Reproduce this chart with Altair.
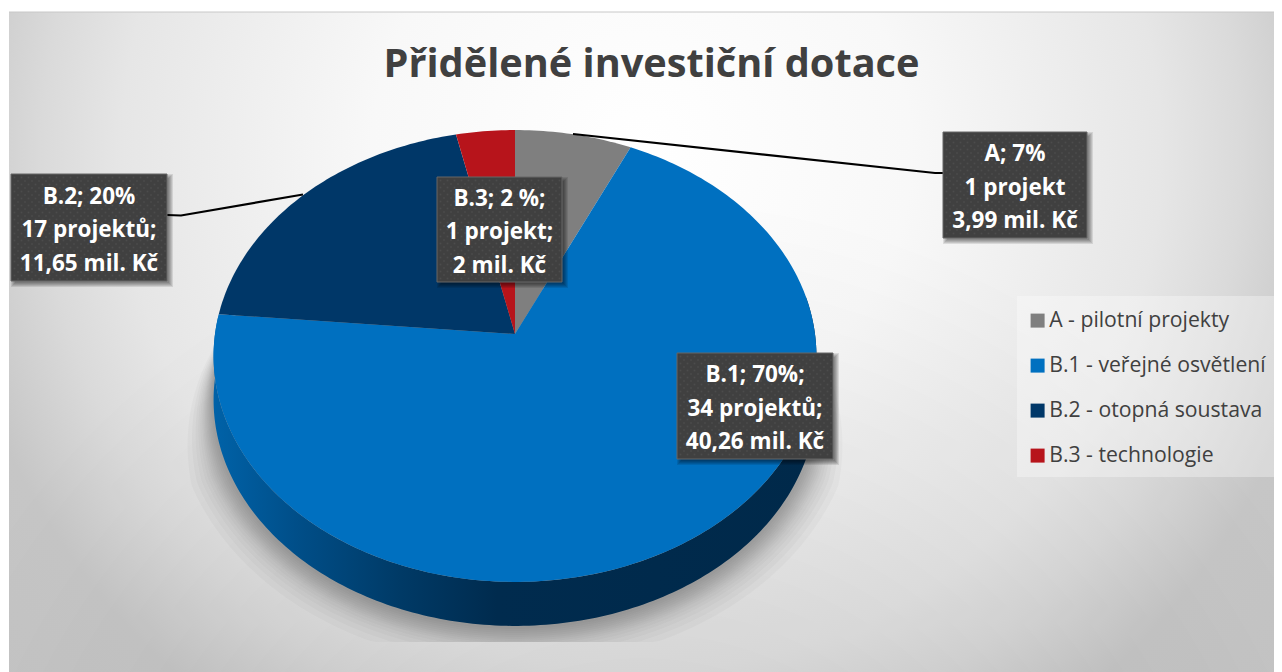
import math
import altair as alt
import pandas as pd

# ---- data
categories = ["A - pilotní projekty", "B.1 - veřejné osvětlení", "B.2 - otopná soustava", "B.3 - technologie"]
amounts = [3.99, 40.26, 11.65, 2.0]
colors = ["#7f7f7f", "#0070c0", "#003768", "#b7141b"]
label_lines = [
    ["A; 7%", "1 projekt", "3,99 mil. Kč"],
    ["B.1; 70%;", "34 projektů;", "40,26 mil. Kč"],
    ["B.2; 20%", "17 projektů;", "11,65 mil. Kč"],
    ["B.3; 2 %;", "1 projekt;", "2 mil. Kč"],
]
title_text = "Přidělené investiční dotace"

# ---- layout (page pixels)
CX, CY = 515.0, 334.0
A_, B_, K_ = 300.0, 223.8, 0.0973
DEPTH = 44.0
SHADOW_BOTTOM = 642.0
RIGHT = 1274
boxes = [(943, 132, 1087, 238), (677, 353, 833, 459), (11, 174, 167, 281), (437, 177, 562, 282)]
leaders = [[(573, 134), (935, 173), (943, 173)], [(167, 215), (181, 215.5), (303, 194.5)]]
LINE_STEP = 33.5
LABEL_SHIFT = 2.5

X = alt.X("x:Q", axis=None, scale=alt.Scale(domain=[8, RIGHT], range=[0, RIGHT - 8], nice=False, zero=False))
Y = alt.Y("y:Q", axis=None, scale=alt.Scale(domain=[8, 672], range=[0, 664], nice=False, zero=False))
X2 = alt.X2("x2:Q")
Y2 = alt.Y2("y2:Q")


def rim(deg, dy=0.0):
    t = math.radians(deg)
    u, v = math.sin(t), math.cos(t)
    w = 1 + K_ * v
    return CX + A_ * u / w, CY - B_ * v / w + dy


total = sum(amounts)
rows = []
cum = 0.0
for cat, amount in zip(categories, amounts):
    a0, a1 = cum / total * 360, (cum + amount) / total * 360
    cum += amount
    n = max(2, int(a1 - a0) + 1)
    pts = [(CX, CY)] + [rim(a0 + (a1 - a0) * i / n) for i in range(n + 1)] + [(CX, CY)]
    for i, (x, y) in enumerate(pts):
        rows.append({"x": x, "y": y, "cat": cat, "i": i})
slices = pd.DataFrame(rows)

blue_end = (amounts[0] + amounts[1]) / total * 360
wall_angles = [80 + (blue_end - 80) * i / 200 for i in range(201)]
wall_pts = [rim(a) for a in wall_angles] + [rim(a, DEPTH) for a in reversed(wall_angles)]
wall = pd.DataFrame([{"x": x, "y": y, "i": i} for i, (x, y) in enumerate(wall_pts)])

# soft shadow below the disc
shadow_rows = []
for layer, d in enumerate([40, 34, 29, 25, 22, 19, 17, 15, 13, 11, 9, 7, 5, 3]):
    pts = []
    for a in [70 + 230 * i / 230 for i in range(231)]:
        x, y = rim(a, DEPTH)
        t = math.radians(a)
        f = min(1.0, max(0.0, (y - 320) / 150))
        xx = x + math.sin(t) * d * f
        yy = min(SHADOW_BOTTOM, y - math.cos(t) * d * f)
        pts.append((xx, yy))
    for i, (x, y) in enumerate(pts):
        shadow_rows.append({"x": x, "y": y, "layer": layer, "i": i})
shadow = pd.DataFrame(shadow_rows)

bg_data = pd.DataFrame([{"x": 9, "x2": RIGHT, "y": 12, "y2": 672}])
bg = alt.Chart(bg_data).mark_rect(
    fill=alt.Gradient(
        gradient="radial", x1=0.5, y1=0.35, r1=0, x2=0.5, y2=0.35, r2=0.79,
        stops=[
            alt.GradientStop(offset=0, color="#ffffff"),
            alt.GradientStop(offset=0.27, color="#f8f8f8"),
            alt.GradientStop(offset=0.52, color="#e6e6e6"),
            alt.GradientStop(offset=0.60, color="#dadada"),
            alt.GradientStop(offset=0.70, color="#c6c6c6"),
            alt.GradientStop(offset=1, color="#c2c2c2"),
        ],
    )
).encode(x=X, x2=X2, y=Y, y2=Y2)

bg_dim = alt.Chart(bg_data).mark_rect(
    fill=alt.Gradient(
        gradient="radial", x1=0.5, y1=1.0, r1=0, x2=0.5, y2=1.0, r2=0.62,
        stops=[
            alt.GradientStop(offset=0, color="rgba(0,0,0,0.12)"),
            alt.GradientStop(offset=1, color="rgba(0,0,0,0)"),
        ],
    )
).encode(x=X, x2=X2, y=Y, y2=Y2)

top_line = alt.Chart(pd.DataFrame([{"x": 9, "x2": RIGHT, "y": 12}])).mark_rule(
    color="#c8c8c8", strokeWidth=1
).encode(x=X, x2=X2, y=Y)

legend_box = alt.Chart(pd.DataFrame([{"x": 1017, "x2": RIGHT, "y": 296, "y2": 477}])).mark_rect(
    fill="#ffffff", fillOpacity=0.33
).encode(x=X, x2=X2, y=Y, y2=Y2)

shadow_layer = alt.Chart(shadow).mark_line(fill="#000000", fillOpacity=0.022, strokeWidth=0).encode(
    x=X, y=Y, detail="layer:N", order="i:Q"
)

wall_layer = alt.Chart(wall).mark_line(
    fill=alt.Gradient(
        gradient="linear", x1=0, y1=0, x2=1, y2=0,
        stops=[
            alt.GradientStop(offset=0, color="#0062a8"),
            alt.GradientStop(offset=0.14, color="#004e88"),
            alt.GradientStop(offset=0.31, color="#003a66"),
            alt.GradientStop(offset=0.47, color="#002b4e"),
            alt.GradientStop(offset=1, color="#00294a"),
        ],
    ),
    strokeWidth=0,
).encode(x=X, y=Y, order="i:Q")

slice_layer = alt.Chart(slices).mark_line(strokeWidth=0).encode(
    x=X, y=Y, order="i:Q",
    fill=alt.Fill(
        "cat:N",
        scale=alt.Scale(domain=categories, range=colors),
        legend=alt.Legend(
            title=None, orient="none", legendX=1005, legendY=288,
            symbolType="square", symbolSize=196, symbolStrokeWidth=0,
            labelFont="Open Sans", labelFontSize=21.2, labelColor="#404040",
            labelOffset=1, rowPadding=23, padding=14, labelLimit=300,
        ),
    ),
)

leader_rows = []
for k, pts in enumerate(leaders):
    for i, (x, y) in enumerate(pts):
        leader_rows.append({"x": x, "y": y, "k": k, "i": i})
leader_layer = alt.Chart(pd.DataFrame(leader_rows)).mark_line(color="#000000", strokeWidth=2.2).encode(
    x=X, y=Y, detail="k:N", order="i:Q"
)

shadow_rects = []
for (x0, y0, x1, y1) in boxes:
    for g in (6, 5, 4, 3, 2):
        shadow_rects.append({"x": x0 + 4 - g + 2, "x2": x1 + g, "y": y0 + 4 - g + 2, "y2": y1 + g})
shadow_rect_layer = alt.Chart(pd.DataFrame(shadow_rects)).mark_rect(fill="#000000", fillOpacity=0.1).encode(
    x=X, x2=X2, y=Y, y2=Y2
)

box_layer = alt.Chart(pd.DataFrame([{"x": b[0], "y": b[1], "x2": b[2], "y2": b[3]} for b in boxes])).mark_rect(
    fill="#404040", stroke="#666666", strokeWidth=1
).encode(x=X, x2=X2, y=Y, y2=Y2)

dots = []
for (x0, y0, x1, y1) in boxes:
    row = 0
    yy = y0 + 3.5
    while yy < y1 - 1:
        xx = x0 + 3.5 + (3.5 if row % 2 else 0)
        while xx < x1 - 1:
            dots.append({"x": xx, "y": yy})
            xx += 7
        yy += 3.5
        row += 1
dot_layer = alt.Chart(pd.DataFrame(dots)).mark_point(
    filled=True, color="#6a6a6a", opacity=0.3, size=3, shape="square"
).encode(x=X, y=Y)

text_rows = []
for (x0, y0, x1, y1), lines in zip(boxes, label_lines):
    mid_x, mid_y = (x0 + x1) / 2, (y0 + y1) / 2
    for j, line in enumerate(lines):
        text_rows.append({"x": mid_x, "y": mid_y + (j - 1) * LINE_STEP + LABEL_SHIFT, "t": line})
label_text = alt.Chart(pd.DataFrame(text_rows)).mark_text(
    font="Open Sans", fontWeight="bold", fontSize=22.5, color="#ffffff", align="center", baseline="middle"
).encode(x=X, y=Y, text="t:N")

title_layer = alt.Chart(pd.DataFrame([{"x": 651.5, "y": 65, "t": title_text}])).mark_text(
    font="Open Sans", fontWeight="bold", fontSize=39.7, color="#404040", align="center", baseline="middle"
).encode(x=X, y=Y, text="t:N")

chart = alt.layer(
    bg, bg_dim, top_line, legend_box, shadow_layer, wall_layer, slice_layer, leader_layer,
    shadow_rect_layer, box_layer, dot_layer, label_text, title_layer,
).properties(
    width=RIGHT - 8, height=664, padding=0, autosize=alt.AutoSizeParams(type="none")
).configure_view(stroke=None)

chart.save("out.html", embed_options={"renderer": "svg", "actions": False})
